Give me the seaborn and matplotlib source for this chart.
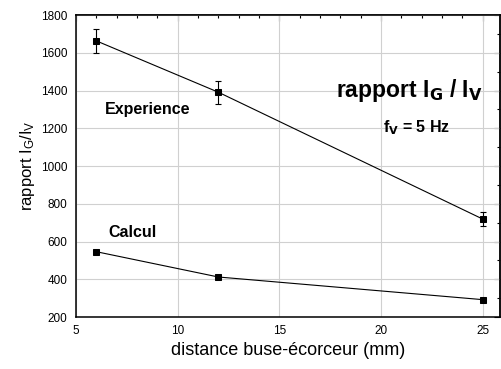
import matplotlib
matplotlib.use("Agg")
import matplotlib.pyplot as plt
import seaborn as sns
import pandas as pd
from matplotlib.ticker import MultipleLocator

# distance buse-écorceur (mm)
distance = [6, 12, 25]
# measured I_G / I_V ratio and its uncertainty
experience = [1663, 1391, 719]
experience_err = [65, 62, 36]
# computed ratio
calcul = [546, 412, 292]

sns.set_style("white")
plt.rcParams["font.family"] = ["Liberation Sans", "DejaVu Sans"]
plt.rcParams["mathtext.default"] = "regular"
plt.rcParams["text.color"] = "black"
plt.rcParams["axes.labelcolor"] = "black"
plt.rcParams["xtick.color"] = "black"
plt.rcParams["ytick.color"] = "black"

df = pd.DataFrame({
    "distance": distance * 2,
    "ratio": experience + calcul,
    "serie": ["Experience"] * 3 + ["Calcul"] * 3,
})

fig = plt.figure(figsize=(5.01, 3.69), dpi=100)
ax = fig.add_axes([0.1517, 0.1409, 0.8463, 0.8184])

sns.lineplot(data=df, x="distance", y="ratio", units="serie", estimator=None,
             color="black", linewidth=0.8, marker="s", markersize=5,
             markeredgecolor="black", markerfacecolor="black", ax=ax, zorder=3)
ax.errorbar(distance, experience, yerr=experience_err, fmt="none",
            ecolor="black", elinewidth=0.8, capsize=2.5, capthick=0.8, zorder=3)

ax.set_xlim(5, 25.85)
ax.set_ylim(200, 1800)
ax.xaxis.set_major_locator(MultipleLocator(5))
ax.xaxis.set_minor_locator(MultipleLocator(1))
ax.yaxis.set_major_locator(MultipleLocator(200))
ax.yaxis.set_minor_locator(MultipleLocator(100))
ax.grid(True, which="major", color="#d0d0d0", linewidth=0.8, zorder=0)
ax.set_axisbelow(True)

for side in ax.spines.values():
    side.set_color("black")
    side.set_linewidth(1.1)

ax.tick_params(axis="both", which="major", labelsize=8.5, length=4, width=0.8,
               direction="out", pad=2)
ax.tick_params(axis="both", which="minor", length=2.5, width=0.8,
               direction="out")

# mirrored ticks on the top and right frame, pointing inside
top = ax.secondary_xaxis("top")
top.xaxis.set_major_locator(MultipleLocator(5))
top.xaxis.set_minor_locator(MultipleLocator(1))
top.tick_params(which="major", direction="in", length=4, width=0.8, labeltop=False)
top.tick_params(which="minor", direction="in", length=2.5, width=0.8)
top.spines["top"].set_linewidth(1.1)
right = ax.secondary_yaxis("right")
right.yaxis.set_major_locator(MultipleLocator(200))
right.yaxis.set_minor_locator(MultipleLocator(100))
right.tick_params(which="major", direction="in", length=4, width=0.8, labelright=False)
right.tick_params(which="minor", direction="in", length=2.5, width=0.8)
right.spines["right"].set_linewidth(1.1)

ax.set_xlabel("distance buse-écorceur (mm)", fontsize=13, labelpad=3)
ax.set_ylabel("rapport I$_G$/I$_V$", fontsize=12, labelpad=3)

ax.text(6.43, 1297, "Experience", fontsize=11.5, fontweight="bold", va="center")
ax.text(6.57, 650, "Calcul", fontsize=11.5, fontweight="bold", va="center")
ax.text(17.8, 1400, r"rapport I$_\mathbf{G}$ / I$_\mathbf{V}$", fontsize=16.5,
        fontweight="bold", va="center")
ax.text(20.1, 1205, r"f$_\mathbf{V}$ = 5 Hz", fontsize=11.5, fontweight="bold",
        va="center")

fig.savefig("out.png", dpi=100)
